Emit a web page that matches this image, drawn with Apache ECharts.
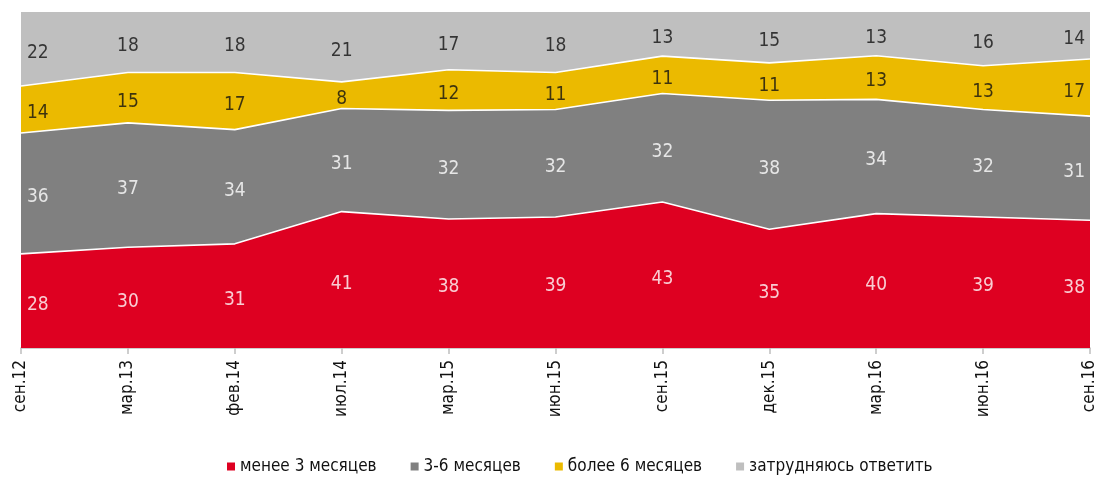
<!DOCTYPE html>
<html>
<head>
<meta charset="utf-8">
<script src="https://cdn.jsdelivr.net/npm/echarts@6/dist/echarts.min.js"></script>
<style>
  html, body { margin: 0; padding: 0; background: #fff; }
  #chart { width: 1104px; height: 484px; }
</style>
</head>
<body>
<div id="chart"></div>
<script>
// данные
const categories = ['сен.12', 'мар.13', 'фев.14', 'июл.14', 'мар.15', 'июн.15', 'сен.15', 'дек.15', 'мар.16', 'июн.16', 'сен.16'];
const less3 = [28, 30, 31, 41, 38, 39, 43, 35, 40, 39, 38];
const from3to6 = [36, 37, 34, 31, 32, 32, 32, 38, 34, 32, 31];
const more6 = [14, 15, 17, 8, 12, 11, 11, 11, 13, 13, 17];
const hardToSay = [22, 18, 18, 21, 17, 18, 13, 15, 13, 16, 14];

const names = ['менее 3 месяцев', '3-6 месяцев', 'более 6 месяцев', 'затрудняюсь ответить'];
const colors = ['#DE0021', '#808080', '#EBBA00', '#BFBFBF'];
const labelColors = ['#fff', '#fff', '#111', '#111'];
const raw = [less3, from3to6, more6, hardToSay];

const FONT = '"Liberation Sans Narrow", "DejaVu Sans Condensed", sans-serif';

// 100% нормировка, как в исходной диаграмме
const totals = categories.map((_, i) => raw.reduce((s, arr) => s + arr[i], 0));
const pct = raw.map(arr => arr.map((v, i) => v / totals[i] * 100));

const areaSeries = pct.map((arr, k) => ({
  name: names[k],
  type: 'line',
  stack: 'total',
  data: arr,
  symbol: 'none',
  color: colors[k],
  lineStyle: { color: '#fff', width: k === 3 ? 0 : 1.6 },
  areaStyle: { color: colors[k], opacity: 1 },
  z: 2
}));

// подписи по центру каждого слоя
const last = categories.length - 1;
const labelSeries = pct.map((arr, k) => ({
  name: names[k] + '_lbl',
  type: 'scatter',
  symbolSize: 0,
  silent: true,
  z: 5,
  data: arr.map((v, i) => {
    let base = 0;
    for (let j = 0; j < k; j++) base += pct[j][i];
    return {
      value: [i, base + v / 2],
      label: {
        show: true,
        position: 'inside',
        formatter: String(raw[k][i]),
        align: i === 0 ? 'left' : (i === last ? 'right' : 'center'),
        offset: [i === 0 ? 6 : (i === last ? -5 : 0), 4],
        color: labelColors[k],
        fontSize: 19,
        fontFamily: FONT
      }
    };
  })
}));

const chart = echarts.init(document.getElementById('chart'));
chart.setOption({
  animation: false,
  grid: { left: 21, right: 14, top: 12, bottom: 136 },
  legend: {
    data: names,
    bottom: 4,
    left: 222,
    icon: 'rect',
    itemWidth: 8,
    itemHeight: 8,
    itemGap: 34,
    textStyle: { fontSize: 17, color: '#111', fontFamily: FONT }
  },
  xAxis: {
    type: 'category',
    data: categories,
    boundaryGap: false,
    axisLine: { lineStyle: { color: '#BFBFBF', width: 1.5 } },
    axisTick: { show: true, length: 6, lineStyle: { color: '#BFBFBF', width: 1.5 } },
    axisLabel: {
      rotate: 90,
      color: '#111',
      fontSize: 17,
      fontFamily: FONT,
      margin: 12,
      interval: 0
    }
  },
  yAxis: {
    type: 'value',
    min: 0,
    max: 100,
    show: false,
    splitLine: { show: false }
  },
  series: areaSeries.concat(labelSeries)
});
</script>
</body>
</html>
